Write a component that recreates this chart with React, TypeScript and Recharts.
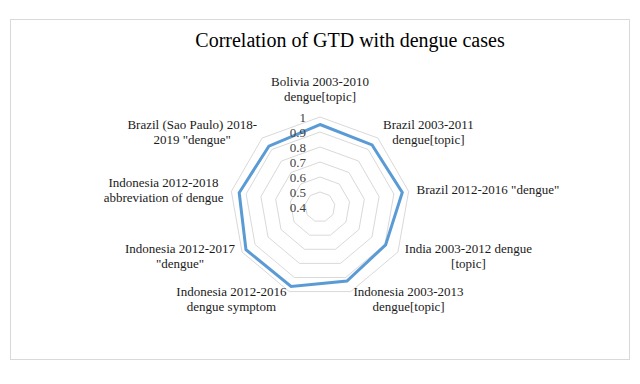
import { PolarAngleAxis, PolarGrid, PolarRadiusAxis, Radar, RadarChart } from "recharts";

const categories = [
  "Bolivia 2003-2010\ndengue[topic]",
  "Brazil 2003-2011\ndengue[topic]",
  'Brazil 2012-2016 "dengue"',
  "India 2003-2012 dengue\n[topic]",
  "Indonesia 2003-2013\ndengue[topic]",
  "Indonesia 2012-2016\ndengue symptom",
  'Indonesia 2012-2017\n"dengue"',
  "Indonesia 2012-2018\nabbreviation of dengue",
  'Brazil (Sao Paulo) 2018-\n2019 "dengue"',
];

const correlation = [0.95, 0.94, 0.957, 0.905, 0.925, 0.964, 0.97, 0.947, 0.93];

const radiusTicks = [0.4, 0.5, 0.6, 0.7, 0.8, 0.9, 1];

const data = categories.map((category, i) => ({ category, value: correlation[i] }));

// the radius axis here always starts at 0, so push the inner radius below zero
// to make the lowest tick (0.4) sit at the centre
const OUTER_R = 90;
const AXIS_MIN = radiusTicks[0];
const AXIS_MAX = radiusTicks[radiusTicks.length - 1];
const INNER_R = -(OUTER_R * AXIS_MIN) / (AXIS_MAX - AXIS_MIN);

const SERIF = '"Liberation Serif", "Times New Roman", serif';
const LABEL_FONT = '13px "Liberation Serif"';
const LINE_H = 15.5;

let ctx: CanvasRenderingContext2D | null = null;
function textWidth(s: string) {
  if (!ctx) ctx = document.createElement("canvas").getContext("2d");
  if (!ctx) return s.length * 6;
  ctx.font = LABEL_FONT;
  return ctx.measureText(s).width;
}

function AngleTick(props: any) {
  const { x, y, payload, textAnchor } = props;
  const lines: string[] = String(payload.value).split("\n");
  const w = Math.max(...lines.map(textWidth));
  let cxText = x;
  if (textAnchor === "start") cxText = x + w / 2;
  if (textAnchor === "end") cxText = x - w / 2;
  const firstY =
    textAnchor === "middle"
      ? y - 12.5 - (lines.length - 1) * LINE_H
      : y - ((lines.length - 1) * LINE_H) / 2;
  return (
    <g>
      {lines.map((line, i) => (
        <text
          key={i}
          x={cxText}
          y={firstY + i * LINE_H}
          textAnchor="middle"
          dominantBaseline="central"
          style={{ fontFamily: SERIF, fontSize: 13 }}
          fill="#1a1a1a"
        >
          {line}
        </text>
      ))}
    </g>
  );
}

function RadiusTick(props: any) {
  const { x, y, payload } = props;
  const v = Number(payload.value);
  return (
    <text
      x={x - 14}
      y={y}
      textAnchor="end"
      dominantBaseline="central"
      style={{ fontFamily: SERIF, fontSize: 13 }}
      fill="#404040"
    >
      {Math.abs(v - 1) < 1e-6 ? "1" : v.toFixed(1)}
    </text>
  );
}

export default function App() {
  return (
    <div
      style={{
        position: "fixed",
        left: 0,
        top: 0,
        width: 640,
        height: 384,
        background: "#fff",
      }}
    >
      <div
        style={{
          position: "absolute",
          left: 10,
          top: 19,
          width: 618,
          height: 339,
          border: "1px solid #d9d9d9",
        }}
      />
      <svg
        width={640}
        height={384}
        style={{ position: "absolute", left: 0, top: 0, pointerEvents: "none" }}
      >
        <text
          x={350}
          y={47}
          textAnchor="middle"
          style={{ fontFamily: SERIF, fontSize: 20 }}
          fill="#000"
        >
          Correlation of GTD with dengue cases
        </text>
      </svg>
      <div style={{ position: "absolute", left: 0, top: 0 }}>
        <RadarChart
          width={640}
          height={384}
          data={data}
          cx={320}
          cy={207}
          innerRadius={INNER_R}
          outerRadius={OUTER_R}
          margin={{ top: 0, right: 0, bottom: 0, left: 0 }}
        >
          <PolarGrid gridType="polygon" radialLines={false} stroke="#d9d9d9" />
          <PolarAngleAxis
            dataKey="category"
            axisLine={false}
            tickLine={false}
            tick={<AngleTick />}
          />
          <PolarRadiusAxis
            angle={90}
            type="number"
            domain={[0, AXIS_MAX]}
            ticks={radiusTicks as any}
            axisLine={false}
            tick={<RadiusTick />}
          />
          <Radar
            dataKey="value"
            stroke="#5b9bd5"
            strokeWidth={3}
            fill="none"
            fillOpacity={0}
            dot={false}
            isAnimationActive={false}
          />
        </RadarChart>
      </div>
    </div>
  );
}
